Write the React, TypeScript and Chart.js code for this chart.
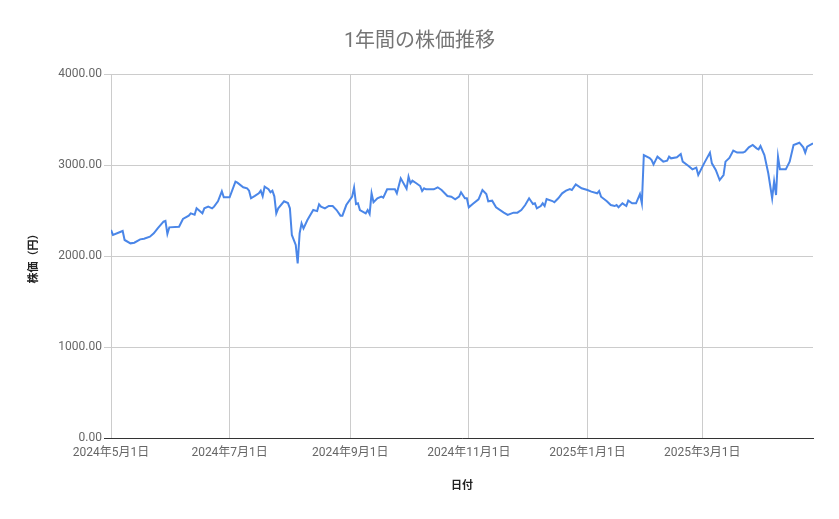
import { useEffect, useRef } from "react";
import { Chart, registerables } from "chart.js";

Chart.register(...registerables);

const chartTitle = "1年間の株価推移";
const xAxisTitle = "日付";
const yAxisTitle = "株価（円）";

const dates = [
  "2024-05-01", "2024-05-02", "2024-05-07", "2024-05-08", "2024-05-11", "2024-05-13", "2024-05-16", "2024-05-18",
  "2024-05-21", "2024-05-23", "2024-05-25", "2024-05-28", "2024-05-29", "2024-05-30", "2024-05-31", "2024-06-05",
  "2024-06-07", "2024-06-10", "2024-06-11", "2024-06-13", "2024-06-14", "2024-06-17", "2024-06-18", "2024-06-20",
  "2024-06-22", "2024-06-23", "2024-06-25", "2024-06-27", "2024-06-28", "2024-07-01", "2024-07-04", "2024-07-05",
  "2024-07-08", "2024-07-10", "2024-07-11", "2024-07-12", "2024-07-14", "2024-07-16", "2024-07-17", "2024-07-18",
  "2024-07-19", "2024-07-21", "2024-07-22", "2024-07-23", "2024-07-24", "2024-07-25", "2024-07-26", "2024-07-29",
  "2024-07-31", "2024-08-01", "2024-08-02", "2024-08-04", "2024-08-05", "2024-08-06", "2024-08-07", "2024-08-08",
  "2024-08-10", "2024-08-13", "2024-08-15", "2024-08-16", "2024-08-17", "2024-08-19", "2024-08-21", "2024-08-23",
  "2024-08-25", "2024-08-27", "2024-08-28", "2024-08-30", "2024-09-02", "2024-09-03", "2024-09-04", "2024-09-05",
  "2024-09-06", "2024-09-09", "2024-09-10", "2024-09-11", "2024-09-12", "2024-09-13", "2024-09-15", "2024-09-17",
  "2024-09-18", "2024-09-20", "2024-09-24", "2024-09-25", "2024-09-27", "2024-09-30", "2024-10-01", "2024-10-02",
  "2024-10-03", "2024-10-05", "2024-10-07", "2024-10-08", "2024-10-09", "2024-10-10", "2024-10-14", "2024-10-16",
  "2024-10-18", "2024-10-21", "2024-10-23", "2024-10-25", "2024-10-27", "2024-10-28", "2024-10-30", "2024-10-31",
  "2024-11-01", "2024-11-03", "2024-11-06", "2024-11-08", "2024-11-10", "2024-11-11", "2024-11-13", "2024-11-15",
  "2024-11-19", "2024-11-21", "2024-11-24", "2024-11-26", "2024-11-28", "2024-11-30", "2024-12-02", "2024-12-04",
  "2024-12-05", "2024-12-06", "2024-12-08", "2024-12-09", "2024-12-10", "2024-12-11", "2024-12-14", "2024-12-15",
  "2024-12-17", "2024-12-19", "2024-12-21", "2024-12-23", "2024-12-24", "2024-12-26", "2024-12-29", "2025-01-01",
  "2025-01-03", "2025-01-06", "2025-01-07", "2025-01-08", "2025-01-11", "2025-01-13", "2025-01-15", "2025-01-16",
  "2025-01-17", "2025-01-19", "2025-01-21", "2025-01-22", "2025-01-24", "2025-01-26", "2025-01-28", "2025-01-29",
  "2025-01-30", "2025-02-02", "2025-02-03", "2025-02-04", "2025-02-06", "2025-02-09", "2025-02-11", "2025-02-12",
  "2025-02-13", "2025-02-16", "2025-02-18", "2025-02-19", "2025-02-22", "2025-02-24", "2025-02-26", "2025-02-27",
  "2025-03-02", "2025-03-05", "2025-03-06", "2025-03-08", "2025-03-10", "2025-03-12", "2025-03-13", "2025-03-15",
  "2025-03-17", "2025-03-19", "2025-03-22", "2025-03-23", "2025-03-25", "2025-03-27", "2025-03-29", "2025-03-30",
  "2025-03-31", "2025-04-02", "2025-04-04", "2025-04-06", "2025-04-07", "2025-04-08", "2025-04-09", "2025-04-10",
  "2025-04-13", "2025-04-15", "2025-04-17", "2025-04-20", "2025-04-22", "2025-04-23", "2025-04-24", "2025-04-27",
];

const prices = [
  2286, 2231, 2275, 2176, 2139, 2146, 2183, 2190,
  2212, 2249, 2304, 2377, 2385, 2242, 2315, 2322,
  2407, 2443, 2469, 2454, 2524, 2469, 2524, 2542,
  2524, 2542, 2601, 2711, 2645, 2645, 2817, 2806,
  2755, 2744, 2718, 2634, 2660, 2689, 2718, 2656,
  2762, 2733, 2700, 2718, 2656, 2469, 2524, 2601,
  2582, 2524, 2231, 2121, 1919, 2249, 2359, 2304,
  2396, 2505, 2493, 2568, 2542, 2524, 2550, 2550,
  2505, 2443, 2443, 2560, 2652, 2751, 2571, 2579,
  2505, 2469, 2505, 2462, 2689, 2590, 2634, 2652,
  2641, 2733, 2733, 2689, 2854, 2740, 2872, 2799,
  2828, 2800, 2769, 2714, 2744, 2733, 2733, 2755,
  2725, 2659, 2652, 2623, 2652, 2700, 2634, 2634,
  2535, 2571, 2623, 2725, 2681, 2601, 2608, 2535,
  2476, 2451, 2476, 2476, 2505, 2560, 2634, 2571,
  2579, 2524, 2549, 2579, 2549, 2626, 2604, 2590,
  2634, 2689, 2718, 2736, 2725, 2787, 2744, 2725,
  2707, 2689, 2714, 2652, 2601, 2560, 2549, 2560,
  2535, 2579, 2549, 2608, 2579, 2579, 2681, 2579,
  3110, 3077, 3055, 3007, 3092, 3037, 3048, 3092,
  3073, 3084, 3121, 3037, 2989, 2952, 2971, 2890,
  3018, 3136, 3018, 2945, 2835, 2890, 3037, 3077,
  3158, 3136, 3136, 3147, 3194, 3220, 3183, 3172,
  3209, 3110, 2909, 2634, 2820, 2670, 3092, 2952,
  2952, 3037, 3220, 3245, 3194, 3136, 3202, 3238,
];

const tickDates = ["2024-05-01", "2024-07-01", "2024-09-01", "2024-11-01", "2025-01-01", "2025-03-01"];
const tickLabels = ["2024年5月1日", "2024年7月1日", "2024年9月1日", "2024年11月1日", "2025年1月1日", "2025年3月1日"];
const yTickValues = [0, 1000, 2000, 3000, 4000];

const FONT = "Roboto, 'Noto Sans CJK JP', sans-serif";
const START = Date.UTC(2024, 4, 1);
const dayOf = (s: string) => {
  const [y, m, d] = s.split("-").map(Number);
  return (Date.UTC(y, m - 1, d) - START) / 86400000;
};

export default function App() {
  const canvasRef = useRef<HTMLCanvasElement | null>(null);

  useEffect(() => {
    document.body.style.margin = "0";
    const canvas = canvasRef.current;
    if (!canvas) return;
    const points = dates.map((d, i) => ({ x: dayOf(d), y: prices[i] }));
    const tickDays = tickDates.map(dayOf);

    const chart = new Chart(canvas, {
      type: "line",
      data: {
        datasets: [
          {
            label: "株価",
            data: points,
            borderColor: "#4a86e8",
            backgroundColor: "#4a86e8",
            borderWidth: 2,
            pointRadius: 0,
            tension: 0,
            fill: false,
            yAxisID: "y",
          },
        ],
      },
      options: {
        animation: false,
        responsive: true,
        maintainAspectRatio: false,
        layout: { padding: { left: 0, right: 0, top: 0, bottom: 0 } },
        plugins: {
          legend: { display: false },
          tooltip: { enabled: false },
          title: {
            display: true,
            text: chartTitle,
            color: "#757575",
            font: { family: FONT, size: 20, weight: "normal" },
            padding: { top: 30, bottom: 20 },
          },
        },
        scales: {
          x: {
            type: "linear",
            min: 0,
            max: dayOf(dates[dates.length - 1]),
            afterBuildTicks: (scale: any) => {
              scale.ticks = tickDays.map((v) => ({ value: v }));
            },
            afterFit: (scale: any) => {
              scale.height = 81;
            },
            ticks: {
              autoSkip: false,
              maxRotation: 0,
              minRotation: 0,
              padding: 8,
              color: "#666666",
              font: { family: FONT, size: 12 },
              callback: (v: any) => {
                const idx = tickDays.indexOf(Number(v));
                return idx >= 0 ? tickLabels[idx] : "";
              },
            },
            grid: { color: "#cccccc", drawTicks: false, lineWidth: 1 },
            border: { display: true, color: "#333333", width: 1 },
            title: {
              display: true,
              text: xAxisTitle,
              color: "#222222",
              font: { family: FONT, size: 11, weight: "bold" },
              padding: { top: 0, bottom: 26 },
            },
          },
          y: {
            min: 0,
            max: 4000,
            afterBuildTicks: (scale: any) => {
              scale.ticks = yTickValues.map((v) => ({ value: v }));
            },
            afterFit: (scale: any) => {
              scale.width = 111;
            },
            ticks: {
              padding: 2,
              color: "#666666",
              font: { family: FONT, size: 12 },
              callback: (v: any) => Number(v).toFixed(2),
            },
            grid: {
              color: "#cccccc",
              tickLength: 7,
              tickColor: (ctx: any) => (ctx.tick && ctx.tick.value === 0 ? "#333333" : "#cccccc"),
            },
            border: { display: false },
            title: {
              display: true,
              text: yAxisTitle,
              color: "#222222",
              font: { family: FONT, size: 11, weight: "bold" },
              padding: { top: 28, bottom: 0 },
            },
          },
          yRightSpace: {
            position: "right",
            min: 0,
            max: 1,
            afterFit: (scale: any) => {
              scale.width = 26;
            },
            ticks: { display: false },
            grid: { display: false, drawTicks: false },
            border: { display: false },
          },
        },
      },
    });
    return () => chart.destroy();
  }, []);

  return (
    <div style={{ position: "absolute", left: 0, top: 0, width: 839, height: 519 }}>
      <canvas ref={canvasRef} />
    </div>
  );
}
